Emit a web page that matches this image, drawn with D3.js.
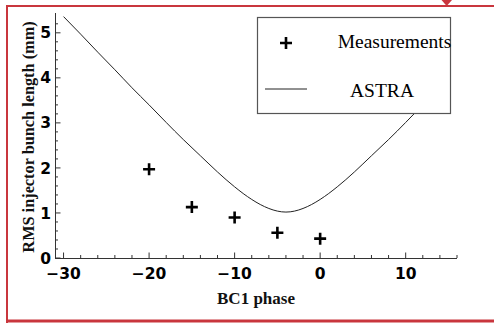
<!DOCTYPE html>
<html><head><meta charset="utf-8">
<script src="https://cdn.jsdelivr.net/npm/d3@7"></script>
<style>html,body{margin:0;padding:0;background:#fff;}svg{display:block;}</style>
</head><body>
<svg id="c" width="494" height="323"></svg>
<script>
// Data
const measPhase = [-20, -15, -10, -5, 0];
const measLength = [1.97, 1.13, 0.90, 0.56, 0.43];
const astraPhase = [-30,-28,-26,-24,-22,-20,-18,-16,-14,-12,-10,-8,-6,-4,-2,0,2,4,6,8,10,12,14];
const astraLength = [5.36,4.97,4.57,4.18,3.78,3.40,3.01,2.63,2.27,1.91,1.58,1.30,1.10,1.02,1.10,1.30,1.58,1.91,2.27,2.63,3.01,3.40,3.78];
const xMajorTicks = [-30, -20, -10, 0, 10];
const yMajorTicks = [0, 1, 2, 3, 4, 5];
const legendLabels = ["Measurements", "ASTRA"];
const xTitle = "BC1 phase";
const yTitle = "RMS injector bunch length (mm)";

const svg = d3.select("#c");
const x = d3.scaleLinear().domain([-31, 16]).range([55, 457]);
const y = d3.scaleLinear().domain([0, 5.44]).range([258, 13]);
const axisColor = "#333";
const tickFont = "'DejaVu Sans', sans-serif";
const serif = "'Liberation Serif', 'Times New Roman', serif";

// red frame
const red = "#c9363d";
svg.append("path").attr("d", "M7,323 L7,6 L494,6").attr("fill","none").attr("stroke",red).attr("stroke-width",2);
svg.append("line").attr("x1",6).attr("x2",494).attr("y1",321).attr("y2",321).attr("stroke",red).attr("stroke-width",3);
svg.append("path").attr("d","M441.5,0 L452,0 L446.7,6 Z").attr("fill",red);

// axes lines
svg.append("line").attr("x1", x(-31)).attr("x2", x(16)).attr("y1", y(0)+0.5).attr("y2", y(0)+0.5).attr("stroke", axisColor).attr("stroke-width",1);
svg.append("line").attr("x1", x(-31)+0.5).attr("x2", x(-31)+0.5).attr("y1", y(0)+0.5).attr("y2", y(5.44)).attr("stroke", axisColor).attr("stroke-width",1);

// x ticks
const xMinor = d3.range(-30, 17, 2).filter(v => !xMajorTicks.includes(v));
svg.selectAll(".xmaj").data(xMajorTicks).enter().append("line")
  .attr("x1", d=>x(d)).attr("x2", d=>x(d)).attr("y1", y(0)).attr("y2", y(0)-5.5).attr("stroke",axisColor);
svg.selectAll(".xmin").data(xMinor).enter().append("line")
  .attr("x1", d=>x(d)).attr("x2", d=>x(d)).attr("y1", y(0)).attr("y2", y(0)-3).attr("stroke",axisColor);
svg.selectAll(".xlab").data(xMajorTicks).enter().append("text")
  .attr("x", d=>x(d)).attr("y", 279).attr("text-anchor","middle")
  .attr("font-family", tickFont).attr("font-weight","bold").attr("font-size", 15.5).attr("fill","#000")
  .text(d => d < 0 ? "\u2212" + Math.abs(d) : String(d));

// y ticks
const yMinor = d3.range(0, 54, 2).map(v => v/10).filter(v => !yMajorTicks.includes(v));
svg.selectAll(".ymaj").data(yMajorTicks).enter().append("line")
  .attr("x1", x(-31)).attr("x2", x(-31)+5.5).attr("y1", d=>y(d)).attr("y2", d=>y(d)).attr("stroke",axisColor);
svg.selectAll(".ymin").data(yMinor).enter().append("line")
  .attr("x1", x(-31)).attr("x2", x(-31)+3).attr("y1", d=>y(d)).attr("y2", d=>y(d)).attr("stroke",axisColor);
svg.selectAll(".ylab").data(yMajorTicks).enter().append("text")
  .attr("x", 51).attr("y", d=>y(d)).attr("dy","0.36em").attr("text-anchor","end")
  .attr("font-family", tickFont).attr("font-weight","bold").attr("font-size", 15.5).attr("fill","#000")
  .text(d => String(d));

// axis titles
svg.append("text").attr("x", 256).attr("y", 304).attr("text-anchor","middle")
  .attr("font-family", serif).attr("font-weight","bold").attr("font-size", 17).attr("fill","#111").text(xTitle);
svg.append("text").attr("transform","translate(34,137) rotate(-90)").attr("text-anchor","middle")
  .attr("font-family", serif).attr("font-weight","bold").attr("font-size", 16.3).attr("fill","#111").text(yTitle);

// ASTRA curve
const line = d3.line().x((d,i)=>x(astraPhase[i])).y(d=>y(d)).curve(d3.curveNatural);
svg.append("path").datum(astraLength).attr("d", line).attr("fill","none").attr("stroke","#222").attr("stroke-width",1);

// measurement crosses
const plus = (g, cx, cy) => {
  g.append("path").attr("d", `M${cx-6},${cy} L${cx+6},${cy} M${cx},${cy-6} L${cx},${cy+6}`)
   .attr("stroke","#000").attr("stroke-width",2.6).attr("fill","none");
};
measPhase.forEach((p,i) => plus(svg, x(p), y(measLength[i])));

// legend
const lg = svg.append("g");
lg.append("rect").attr("x",257.5).attr("y",17.5).attr("width",193).attr("height",96)
  .attr("fill","#fff").attr("stroke","#555").attr("stroke-width",1.2);
plus(lg, 286, 43);
lg.append("line").attr("x1",265).attr("x2",307).attr("y1",89).attr("y2",89).attr("stroke","#222").attr("stroke-width",1);
lg.append("text").attr("x", 394.5).attr("y", 48).attr("text-anchor","middle")
  .attr("font-family", serif).attr("font-size", 19.5).attr("fill","#000").text(legendLabels[0]);
lg.append("text").attr("x", 382).attr("y", 97).attr("text-anchor","middle")
  .attr("font-family", serif).attr("font-size", 19.5).attr("fill","#000").text(legendLabels[1]);
</script>
</body></html>
